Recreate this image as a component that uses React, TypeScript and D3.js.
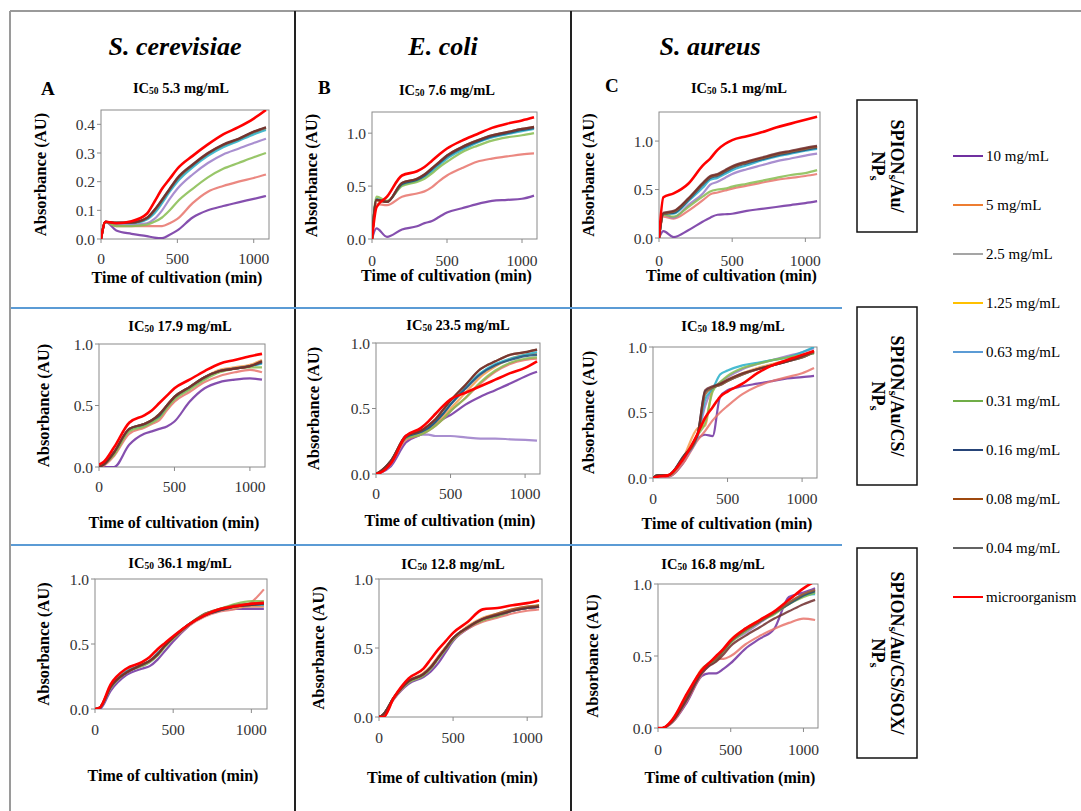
import React from "react";
import * as d3 from "d3";

const W = 1081;
const H = 811;
const SERIF = "Liberation Serif, DejaVu Serif, serif";

// time points (min) shared by every curve
const TIMES = [0, 30, 100, 200, 300, 350, 400, 450, 500, 600, 700, 800, 900, 1000, 1080];

const SERIES_LABELS = ["10 mg/mL", "5 mg/mL", "2.5 mg/mL", "1.25 mg/mL", "0.63 mg/mL", "0.31 mg/mL", "0.16 mg/mL", "0.08 mg/mL", "0.04 mg/mL", "microorganism"];
const LEGEND_COLORS = ["#7030A0", "#ED7D31", "#A5A5A5", "#FFC000", "#5B9BD5", "#70AD47", "#264478", "#9E480E", "#636363", "#FF0000"];
// colours as they show up in the plotted curves
const LINE_COLORS = ["#7030A0", "#E8736B", "#9A7BC8", "#F59B4C", "#27AFC9", "#86BC4F", "#1F4E79", "#9C5A2E", "#6E2C2C", "#FF0000"];

const ORGANISMS = ["S. cerevisiae", "E. coli", "S. aureus"];
const COATINGS = [["/Au/", "NPs"], ["/Au/CS/", "NPs"], ["/Au/CS/SOX/", "NPs"]];
const IC50 = ["5.3", "7.6", "5.1", "17.9", "23.5", "18.9", "36.1", "12.8", "16.8"];
const Y_MAX = [0.45, 1.2, 1.3, 1, 1, 1, 1, 1, 1];
const Y_TICKS_SMALL = [0, 0.1, 0.2, 0.3, 0.4];
const Y_TICKS = [0, 0.5, 1.0];
const X_TICKS = [0, 500, 1000];

const cerevisiaeAu = [
  [0, .06, .03, .018, .01, .005, .003, .015, .03, .075, .10, .115, .128, .14, .15],
  [0, .06, .045, .045, .045, .045, .045, .055, .07, .125, .165, .185, .2, .213, .225],
  [0, .06, .05, .05, .055, .07, .10, .14, .175, .225, .265, .295, .315, .335, .35],
  [0, .06, .055, .056, .07, .095, .13, .17, .205, .255, .295, .325, .345, .37, .385],
  [0, .06, .055, .055, .068, .09, .125, .165, .20, .25, .29, .32, .342, .365, .38],
  [0, .06, .045, .045, .05, .06, .075, .10, .13, .175, .215, .245, .265, .285, .30],
  [0, .06, .057, .057, .072, .10, .135, .173, .21, .258, .298, .328, .348, .373, .388],
  [0, .06, .057, .057, .073, .10, .136, .174, .211, .259, .299, .329, .349, .374, .389],
  [0, .06, .056, .058, .074, .102, .138, .176, .213, .26, .30, .33, .35, .375, .39],
  [0, .06, .055, .062, .088, .13, .175, .21, .245, .29, .33, .365, .39, .42, .45],
];
const coliAu = [
  [0, .1, .02, .09, .12, .15, .17, .21, .25, .29, .33, .36, .37, .38, .41],
  [0, .33, .32, .40, .43, .45, .49, .55, .60, .67, .73, .76, .78, .80, .81],
  [0, .37, .35, .53, .56, .60, .66, .72, .78, .86, .92, .97, 1.0, 1.03, 1.05],
  [0, .36, .35, .52, .56, .60, .66, .72, .77, .86, .92, .97, 1.0, 1.03, 1.05],
  [0, .38, .35, .51, .55, .59, .64, .70, .76, .84, .91, .96, .99, 1.02, 1.04],
  [0, .40, .36, .50, .54, .57, .62, .68, .73, .82, .88, .93, .96, .98, 1.0],
  [0, .37, .35, .52, .56, .60, .66, .72, .78, .86, .92, .97, 1.0, 1.03, 1.05],
  [0, .37, .35, .53, .57, .61, .67, .73, .79, .87, .93, .98, 1.01, 1.04, 1.06],
  [0, .37, .35, .53, .57, .61, .67, .73, .79, .87, .93, .98, 1.01, 1.04, 1.06],
  [0, .30, .40, .60, .64, .68, .74, .80, .855, .93, .99, 1.05, 1.09, 1.12, 1.15],
];
const aureusAu = [
  [0, .07, .01, .08, .17, .21, .24, .245, .25, .28, .30, .32, .34, .36, .38],
  [0, .22, .20, .28, .39, .45, .47, .49, .51, .54, .57, .60, .62, .64, .66],
  [0, .24, .21, .34, .46, .55, .58, .62, .66, .71, .75, .79, .82, .85, .87],
  [0, .25, .27, .40, .56, .63, .65, .69, .73, .78, .82, .86, .89, .92, .94],
  [0, .25, .25, .38, .52, .60, .62, .66, .70, .75, .80, .84, .87, .90, .92],
  [0, .24, .22, .32, .43, .48, .50, .51, .53, .56, .59, .62, .65, .67, .70],
  [0, .25, .26, .39, .55, .62, .64, .68, .72, .77, .81, .85, .88, .91, .93],
  [0, .25, .27, .40, .56, .63, .65, .69, .73, .78, .82, .86, .89, .92, .94],
  [0, .26, .28, .41, .57, .64, .66, .70, .74, .79, .83, .87, .90, .93, .95],
  [0, .42, .46, .56, .75, .82, .91, .97, 1.01, 1.05, 1.09, 1.14, 1.18, 1.22, 1.25],
];
const cerevisiaeCs = [
  [0, 0, 0, .18, .27, .29, .31, .33, .37, .53, .64, .69, .71, .72, .71],
  [0, .01, .09, .27, .32, .35, .38, .46, .53, .61, .69, .74, .77, .79, .77],
  [0, .02, .11, .30, .34, .37, .41, .49, .56, .64, .72, .78, .80, .82, .85],
  [0, .02, .11, .30, .35, .38, .42, .50, .57, .65, .73, .79, .81, .83, .87],
  [0, .02, .11, .30, .34, .37, .41, .49, .56, .64, .72, .78, .80, .82, .84],
  [0, .02, .10, .29, .33, .36, .40, .48, .55, .63, .71, .77, .80, .81, .81],
  [0, .02, .12, .31, .35, .38, .42, .50, .57, .65, .73, .78, .80, .82, .85],
  [0, .02, .12, .31, .35, .38, .43, .50, .57, .65, .73, .78, .80, .82, .86],
  [0, .02, .12, .31, .35, .38, .43, .50, .57, .65, .73, .78, .80, .82, .86],
  [.02, .04, .16, .36, .42, .46, .52, .58, .64, .71, .78, .84, .87, .90, .92],
];
const coliCs = [
  [0, .01, .06, .24, .30, .34, .38, .42, .45, .53, .59, .64, .69, .745, .78],
  [0, .01, .08, .26, .30, .33, .37, .42, .48, .58, .69, .78, .84, .87, .88],
  [0, .01, .07, .29, .30, .30, .29, .29, .29, .28, .27, .27, .265, .26, .255],
  [0, .02, .10, .28, .31, .34, .38, .44, .50, .62, .74, .82, .88, .91, .92],
  [0, .02, .10, .28, .32, .35, .40, .46, .53, .66, .77, .84, .88, .91, .93],
  [0, .02, .09, .27, .30, .33, .37, .42, .48, .58, .70, .79, .85, .88, .89],
  [0, .02, .10, .28, .32, .35, .40, .46, .53, .65, .76, .83, .87, .90, .91],
  [0, .02, .10, .29, .33, .37, .42, .49, .56, .68, .80, .86, .91, .93, .95],
  [0, .02, .10, .29, .33, .37, .42, .49, .56, .68, .80, .86, .91, .93, .95],
  [0, .01, .08, .29, .35, .40, .46, .52, .57, .62, .67, .72, .77, .81, .86],
];
const aureusCs = [
  [0, .01, .01, .11, .30, .33, .32, .62, .67, .70, .72, .74, .76, .77, .78],
  [0, .01, .01, .11, .29, .36, .44, .50, .55, .64, .70, .74, .77, .80, .84],
  [0, .02, .02, .14, .32, .55, .68, .73, .77, .83, .87, .90, .93, .96, .99],
  [0, .02, .02, .15, .38, .40, .68, .72, .75, .80, .84, .87, .90, .93, .96],
  [0, .02, .02, .15, .33, .60, .68, .79, .82, .86, .88, .90, .92, .96, 1.0],
  [0, .02, .02, .14, .33, .42, .66, .73, .78, .84, .87, .90, .92, .94, .95],
  [0, .02, .02, .16, .34, .66, .69, .71, .74, .79, .83, .86, .89, .92, .96],
  [0, .02, .02, .15, .33, .64, .69, .71, .74, .79, .83, .86, .89, .92, .96],
  [0, .02, .02, .16, .34, .67, .70, .72, .75, .80, .83, .86, .89, .93, .97],
  [0, .01, .02, .14, .34, .46, .54, .62, .66, .72, .80, .86, .90, .94, .97],
];
const cerevisiaeSox = [
  [0, 0, .14, .26, .31, .33, .38, .45, .52, .64, .73, .76, .77, .77, .77],
  [0, .01, .17, .29, .34, .37, .43, .49, .54, .64, .71, .75, .77, .82, .92],
  [0, .01, .16, .28, .33, .36, .42, .49, .55, .65, .72, .76, .78, .79, .79],
  [0, .01, .17, .28, .34, .37, .42, .49, .55, .65, .72, .76, .78, .79, .79],
  [0, .01, .17, .29, .34, .37, .43, .49, .55, .65, .72, .76, .79, .80, .80],
  [0, .01, .16, .28, .33, .36, .41, .48, .54, .65, .73, .77, .81, .83, .83],
  [0, .01, .17, .28, .34, .37, .42, .49, .55, .65, .72, .76, .79, .80, .81],
  [0, .01, .17, .28, .34, .37, .42, .49, .55, .65, .73, .77, .80, .81, .82],
  [0, .01, .17, .28, .34, .37, .42, .49, .55, .65, .72, .76, .79, .80, .81],
  [0, .01, .19, .31, .36, .40, .46, .51, .56, .65, .72, .77, .79, .81, .815],
];
const coliSox = [
  [0, .02, .13, .24, .29, .33, .39, .47, .55, .64, .70, .73, .77, .79, .80],
  [0, .01, .13, .25, .31, .36, .43, .50, .56, .64, .69, .72, .75, .77, .78],
  [0, .02, .14, .26, .31, .36, .43, .50, .57, .65, .71, .74, .77, .79, .80],
  [0, .02, .14, .26, .32, .37, .44, .51, .57, .66, .72, .75, .78, .80, .81],
  [0, .02, .14, .26, .31, .36, .43, .50, .57, .65, .71, .74, .77, .79, .80],
  [0, .02, .14, .25, .30, .35, .42, .49, .56, .65, .70, .73, .77, .79, .81],
  [0, .02, .14, .26, .31, .36, .43, .50, .57, .65, .71, .74, .77, .79, .80],
  [0, .02, .14, .26, .31, .36, .43, .50, .57, .65, .71, .75, .78, .80, .81],
  [0, .02, .14, .26, .31, .36, .43, .50, .57, .65, .71, .74, .77, .79, .80],
  [0, 0, .14, .28, .35, .42, .49, .55, .61, .69, .78, .79, .81, .825, .845],
];
const aureusSox = [
  [0, 0, .04, .18, .36, .38, .38, .41, .45, .55, .62, .69, .91, .94, .97],
  [0, 0, .04, .19, .37, .44, .48, .48, .50, .58, .64, .69, .73, .76, .75],
  [0, 0, .05, .20, .38, .43, .47, .55, .60, .66, .73, .80, .87, .93, .96],
  [0, 0, .05, .22, .41, .45, .48, .54, .61, .69, .75, .80, .86, .92, .95],
  [0, 0, .05, .21, .39, .44, .48, .54, .60, .69, .74, .80, .87, .92, .93],
  [0, 0, .05, .21, .39, .44, .47, .53, .59, .67, .74, .79, .86, .91, .94],
  [0, 0, .05, .22, .40, .45, .48, .54, .60, .68, .74, .80, .86, .92, .95],
  [0, 0, .05, .22, .40, .45, .48, .54, .60, .68, .74, .80, .87, .93, .96],
  [0, 0, .05, .20, .38, .43, .46, .51, .57, .64, .70, .76, .81, .86, .89],
  [0, 0, .06, .24, .40, .45, .50, .55, .61, .69, .75, .81, .89, .97, 1.02],
];

const PANEL_DATA = [cerevisiaeAu, coliAu, aureusAu, cerevisiaeCs, coliCs, aureusCs, cerevisiaeSox, coliSox, aureusSox];

// pixel layout of each small chart
const LAYOUT = [
  { x0: 101, x1: 269, y0: 110, y1: 239, tickY: 258, xTitleY: 277, yTitleX: 40, titleX: 181, titleY: 88, letter: "A", letterX: 41, letterY: 88 },
  { x0: 372, x1: 537, y0: 112, y1: 239, tickY: 260, xTitleY: 275, yTitleX: 311, titleX: 447, titleY: 90, letter: "B", letterX: 318, letterY: 87 },
  { x0: 659, x1: 820, y0: 112, y1: 238, tickY: 260, xTitleY: 275, yTitleX: 588, titleX: 739, titleY: 88, letter: "C", letterX: 605, letterY: 85 },
  { x0: 99, x1: 265, y0: 344, y1: 467, tickY: 486, xTitleY: 522, yTitleX: 43, titleX: 180, titleY: 326 },
  { x0: 376, x1: 540, y0: 343, y1: 474, tickY: 493, xTitleY: 520, yTitleX: 313, titleX: 458, titleY: 325 },
  { x0: 653, x1: 817, y0: 347, y1: 478, tickY: 498, xTitleY: 523, yTitleX: 588, titleX: 733, titleY: 326 },
  { x0: 95, x1: 267, y0: 579, y1: 709, tickY: 729, xTitleY: 775, yTitleX: 43, titleX: 180, titleY: 563 },
  { x0: 379, x1: 542, y0: 579, y1: 717, tickY: 737, xTitleY: 777, yTitleX: 318, titleX: 453, titleY: 564 },
  { x0: 658, x1: 818, y0: 584, y1: 728, tickY: 749, xTitleY: 777, yTitleX: 592, titleX: 713, titleY: 564 },
];

const Panel = ({ idx }: { idx: number }) => {
  const L = LAYOUT[idx];
  const data = PANEL_DATA[idx];
  const x = d3.scaleLinear().domain([0, 1100]).range([L.x0, L.x1]);
  const y = d3.scaleLinear().domain([0, Y_MAX[idx]]).range([L.y1, L.y0]);
  const yTicks = idx === 0 ? Y_TICKS_SMALL : Y_TICKS;
  const line = d3
    .line<number>()
    .x((_, i) => x(TIMES[i]))
    .y((d) => y(d))
    .curve(d3.curveMonotoneX);
  const clipId = `clip-${idx}`;
  const cy = (L.y0 + L.y1) / 2;

  return (
    <g>
      <defs>
        <clipPath id={clipId}>
          <rect x={L.x0} y={L.y0} width={L.x1 - L.x0} height={L.y1 - L.y0} />
        </clipPath>
      </defs>
      {L.letter && (
        <text x={L.letterX} y={L.letterY} dominantBaseline="central" fontWeight="bold" fontSize={19}>
          {L.letter}
        </text>
      )}
      <text x={L.titleX} y={L.titleY} textAnchor="middle" dominantBaseline="central" fontWeight="bold" fontSize={14.5}>
        IC<tspan fontSize={9.5} dy={3}>50</tspan>
        <tspan dy={-3}>{` ${IC50[idx]} mg/mL`}</tspan>
      </text>
      <rect x={L.x0} y={L.y0} width={L.x1 - L.x0} height={L.y1 - L.y0} fill="white" stroke="#8a8a8a" strokeWidth={1} />
      <g clipPath={`url(#${clipId})`}>
        {data.map((s, i) => (
          <path
            key={i}
            d={line(s) || ""}
            fill="none"
            stroke={LINE_COLORS[i]}
            strokeWidth={i === 9 ? 2.6 : 2.2}
            strokeOpacity={i === 9 ? 1 : 0.85}
            strokeLinejoin="round"
          />
        ))}
      </g>
      {yTicks.map((t) => (
        <g key={t}>
          <line x1={L.x0 - 4} x2={L.x0} y1={y(t)} y2={y(t)} stroke="#8a8a8a" />
          <text x={L.x0 - 6} y={y(t)} textAnchor="end" dominantBaseline="central" fontSize={15.5} fill="#333">
            {t.toFixed(1)}
          </text>
        </g>
      ))}
      {X_TICKS.map((t) => (
        <g key={t}>
          <line x1={x(t)} x2={x(t)} y1={L.y1} y2={L.y1 + 4} stroke="#8a8a8a" />
          <text x={x(t)} y={L.tickY} textAnchor="middle" dominantBaseline="central" fontSize={15.5} fill="#333">
            {t}
          </text>
        </g>
      ))}
      <text x={(L.x0 + L.x1) / 2 - 8} y={L.xTitleY} textAnchor="middle" dominantBaseline="central" fontWeight="bold" fontSize={16}>
        Time  of cultivation (min)
      </text>
      <text
        transform={`translate(${L.yTitleX},${cy}) rotate(-90)`}
        textAnchor="middle"
        dominantBaseline="central"
        fontWeight="bold"
        fontSize={16.5}
      >
        Absorbance (AU)
      </text>
    </g>
  );
};

const HEADER_X = [175, 443, 710];
const BOXES = [
  { y0: 100, y1: 232 },
  { y0: 307, y1: 485 },
  { y0: 548, y1: 758 },
];

const App = () => {
  return (
    <div style={{ position: "absolute", left: 0, top: 0 }}>
      <svg width={W} height={H} style={{ display: "block", background: "white", fontFamily: SERIF }}>
        {/* frame */}
        <line x1={10} x2={W} y1={11} y2={11} stroke="#9a9a9a" strokeWidth={2} />
        <line x1={10} x2={10} y1={11} y2={H} stroke="#9a9a9a" strokeWidth={2} />
        <line x1={295} x2={295} y1={11} y2={H} stroke="#222" strokeWidth={2} />
        <line x1={571} x2={571} y1={11} y2={H} stroke="#222" strokeWidth={2} />
        <line x1={11} x2={842} y1={308} y2={308} stroke="#5B9BD5" strokeWidth={2} />
        <line x1={11} x2={842} y1={545} y2={545} stroke="#5B9BD5" strokeWidth={2} />

        {ORGANISMS.map((o, i) => (
          <text key={o} x={HEADER_X[i]} y={46} textAnchor="middle" dominantBaseline="central" fontWeight="bold" fontStyle="italic" fontSize={26}>
            {o}
          </text>
        ))}

        {LAYOUT.map((_, i) => (
          <Panel key={i} idx={i} />
        ))}

        {/* coating boxes */}
        {BOXES.map((b, i) => {
          const cx = 887;
          const cyy = (b.y0 + b.y1) / 2;
          return (
            <g key={i}>
              <rect x={857} y={b.y0} width={60} height={b.y1 - b.y0} fill="white" stroke="#111" strokeWidth={1.5} />
              <g transform={`translate(${cx},${cyy}) rotate(90)`} fontWeight="bold" fontSize={18}>
                <text x={0} y={-10} textAnchor="middle" dominantBaseline="central">
                  SPION<tspan fontSize={13} dy={3}>s</tspan>
                  <tspan dy={-3}>{COATINGS[i][0]}</tspan>
                </text>
                <text x={0} y={9} textAnchor="middle" dominantBaseline="central">
                  NP<tspan fontSize={13} dy={3}>s</tspan>
                </text>
              </g>
            </g>
          );
        })}

        {/* legend */}
        {SERIES_LABELS.map((lab, i) => {
          const yy = 156 + i * 49;
          return (
            <g key={lab}>
              <line x1={953} x2={983} y1={yy} y2={yy} stroke={LEGEND_COLORS[i]} strokeWidth={2} />
              <text x={986} y={yy} dominantBaseline="central" fontSize={15}>
                {lab}
              </text>
            </g>
          );
        })}
      </svg>
    </div>
  );
};

export default App;
